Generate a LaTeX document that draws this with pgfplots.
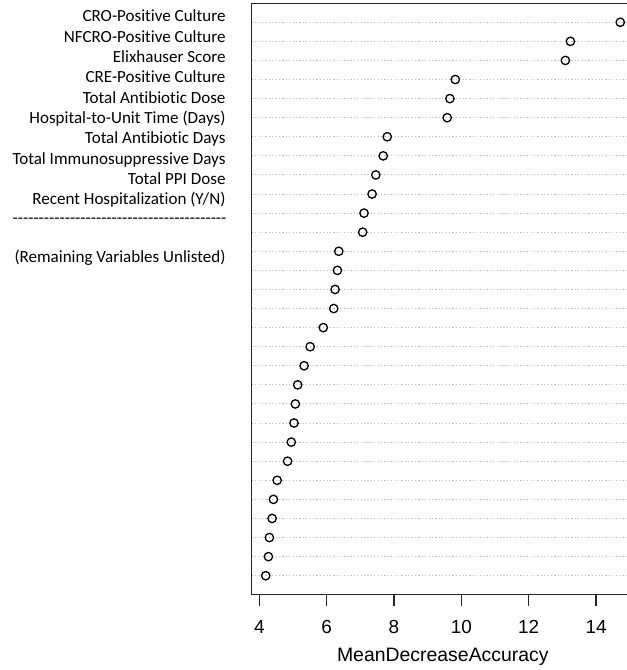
\documentclass[border=0pt]{standalone}
\usepackage{fontspec}
\setmainfont{Carlito}[Ligatures={TeX,NoCommon}]
\newfontfamily\arialfont{Liberation Sans}
\usepackage{pgfplots}
\pgfplotsset{compat=1.18}
\definecolor{gridgray}{RGB}{190,190,190}
\newcommand{\dashrow}{\foreach \i in {1,...,41}{-\kern0pt}}
\begin{document}
\begin{tikzpicture}
\begin{axis}[
  at={(251.7bp,75.2bp)}, anchor=south west,
  scale only axis, width=375.3bp, height=591.6bp,
  xmin=3.774, xmax=14.92, ymin=0, ymax=31,
  axis x line*=box, axis y line*=left,
  axis line style={line width=1.2bp, black!85},
  xtick={4,6,8,10,12,14}, xtick pos=left,
  tick align=outside, major tick length=11bp,
  xtick style={line width=1.2bp, black!85},
  ytick={1,...,30}, yticklabels={}, ytick style={draw=none},
  ymajorgrids, major grid style={gridgray, line width=1bp, dash pattern=on 1.2bp off 2.2bp},
  /pgf/number format/assume math mode=true,
  xticklabel style={font=\arialfont\fontsize{19}{19}\selectfont, anchor=base, yshift=-27.5bp},
  xlabel={MeanDecreaseAccuracy},
  xlabel style={font=\arialfont\fontsize{19.5}{19.5}\selectfont, at={(rel axis cs:0.5,0)}, anchor=base, xshift=3.5bp, yshift=-66.2bp},
]
\addplot[only marks, mark=o, mark size=4.2bp, mark options={line width=1.3bp, black}] coordinates {
(14.72,30) (13.24,29) (13.09,28) (9.82,27) (9.66,26) (9.58,25) (7.80,24) (7.68,23) (7.46,22) (7.35,21)
(7.11,20) (7.07,19) (6.36,18) (6.32,17) (6.25,16) (6.21,15) (5.90,14) (5.51,13) (5.33,12) (5.14,11)
(5.07,10) (5.03,9) (4.95,8) (4.84,7) (4.53,6) (4.42,5) (4.38,4) (4.30,3) (4.27,2) (4.19,1)
};
\end{axis}
\begin{scope}[every node/.style={anchor=base east, inner sep=0pt, font=\fontsize{17.1}{17.1}\selectfont}]
\node at (225.7bp,648bp) {CRO-Positive Culture};
\node at (225.7bp,627.7bp) {NFCRO-Positive Culture};
\node at (225.7bp,607.4bp) {Elixhauser Score};
\node at (225.7bp,587.1bp) {CRE-Positive Culture};
\node at (225.7bp,566.8bp) {Total Antibiotic Dose};
\node at (225.7bp,546.5bp) {Hospital-to-Unit Time (Days)};
\node at (225.7bp,526.2bp) {Total Antibiotic Days};
\node at (225.7bp,505.9bp) {Total Immunosuppressive Days};
\node at (225.7bp,485.6bp) {Total PPI Dose};
\node at (225.7bp,465.3bp) {Recent Hospitalization (Y/N)};
\node at (226.7bp,446.5bp) {\dashrow};
\node at (225.7bp,407.3bp) {(Remaining Variables Unlisted)};
\end{scope}
\pgfresetboundingbox
\useasboundingbox (0,0) rectangle (627bp,670bp);
\end{tikzpicture}
\end{document}
